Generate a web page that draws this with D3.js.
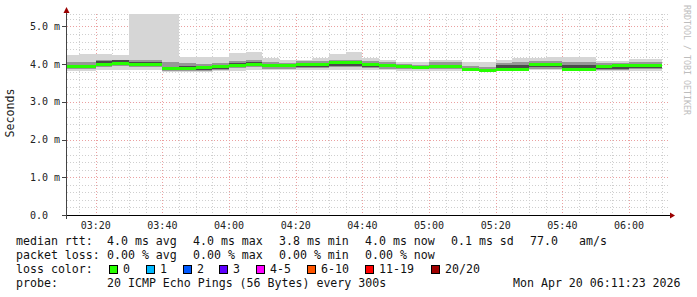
<!DOCTYPE html>
<html>
<head>
<meta charset="utf-8">
<script src="https://cdn.jsdelivr.net/npm/d3@7"></script>
<style>
  body { margin: 0; background: #fff; }
  svg { display: block; }
  text { font-family: "DejaVu Sans Mono", monospace; }
</style>
</head>
<body>
<svg width="697" height="297"></svg>
<script>
// 5 minute slots, first one starts at 03:10 (clipped by the graph start)
const slotCount = 36;
const slotMinutes = 5;

// rtt in ms, one value per slot
const median = [3.95, 3.95, 4.00, 4.03, 4.00, 4.00, 3.88, 3.88, 3.90, 3.93, 3.97, 4.00,
  3.97, 3.97, 4.00, 4.00, 4.05, 4.05, 4.00, 3.97, 3.95, 3.92, 3.95, 3.95,
  3.85, 3.83, 3.85, 3.85, 4.00, 4.00, 3.87, 3.87, 3.95, 3.97, 3.97, 3.97];
const rttMax = [4.25, 4.28, 4.28, 4.25, 5.33, 5.33, 5.33, 4.20, 4.18, 4.18, 4.30, 4.32,
  4.15, 4.12, 4.12, 4.15, 4.28, 4.33, 4.15, 4.12, 4.05, 4.05, 4.12, 4.12,
  4.05, 4.05, 4.12, 4.15, 4.17, 4.20, 4.20, 4.20, 4.08, 4.08, 4.13, 4.13];
const rttMin = [3.82, 3.82, 3.85, 3.85, 3.85, 3.85, 3.80, 3.80, 3.80, 3.82, 3.83, 3.85,
  3.85, 3.85, 3.85, 3.85, 3.85, 3.85, 3.85, 3.85, 3.83, 3.83, 3.83, 3.83,
  3.82, 3.80, 3.82, 3.82, 3.85, 3.85, 3.82, 3.82, 3.82, 3.82, 3.82, 3.82];
const rttHi = [4.05, 4.05, 4.12, 4.12, 4.12, 4.12, 4.05, 4.02, 4.00, 4.02, 4.08, 4.10,
  4.05, 4.03, 4.08, 4.08, 4.12, 4.12, 4.08, 4.05, 4.00, 3.98, 4.05, 4.05,
  3.95, 3.93, 4.02, 4.05, 4.08, 4.08, 4.05, 4.05, 4.02, 4.02, 4.05, 4.05];
const rttLo = [3.88, 3.88, 3.92, 3.95, 3.92, 3.92, 3.83, 3.83, 3.83, 3.85, 3.90, 3.92,
  3.88, 3.88, 3.90, 3.90, 3.92, 3.92, 3.90, 3.88, 3.87, 3.86, 3.87, 3.87,
  3.83, 3.82, 3.84, 3.84, 3.88, 3.88, 3.84, 3.84, 3.85, 3.85, 3.86, 3.86];
const rttHiInner = [3.98, 3.98, 4.08, 4.10, 4.05, 4.05, 3.92, 3.95, 3.95, 3.97, 4.02, 4.05,
  4.00, 4.00, 4.03, 4.03, 4.08, 4.08, 4.03, 4.00, 3.97, 3.95, 3.98, 3.98,
  3.90, 3.88, 3.97, 3.97, 4.02, 4.02, 3.97, 3.97, 3.97, 3.97, 4.00, 4.00];
const rttLoInner = [3.92, 3.92, 3.97, 3.99, 3.97, 3.97, 3.84, 3.84, 3.85, 3.87, 3.93, 3.95,
  3.92, 3.92, 3.93, 3.93, 3.95, 3.95, 3.93, 3.92, 3.90, 3.88, 3.90, 3.90,
  3.84, 3.82, 3.88, 3.88, 3.92, 3.92, 3.88, 3.88, 3.88, 3.88, 3.90, 3.90];

const yTicks = [0, 1, 2, 3, 4, 5];
const yTickLabels = ["0.0", "1.0 m", "2.0 m", "3.0 m", "4.0 m", "5.0 m"];

const lossLabels = ["0", "1", "2", "3", "4-5", "6-10", "11-19", "20/20"];
const lossColors = ["#26ff00", "#00b8ff", "#0059ff", "#5e00ff", "#ff00ff", "#ff5500", "#ff0000", "#a00000"];
const lossBoxX = [109, 146, 183, 219, 256, 307, 365, 431];

const legendRows = [
  { y: 245.3, items: [[16, "median rtt:"], [107, "4.0 ms avg"], [193, "4.0 ms max"], [279, "3.8 ms min"],
    [365, "4.0 ms now"], [451, "0.1 ms sd"], [530, "77.0"], [579, "am/s"]] },
  { y: 259.1, items: [[16, "packet loss:"], [107, "0.00 % avg"], [193, "0.00 % max"], [279, "0.00 % min"],
    [365, "0.00 % now"]] },
  { y: 272.9, items: [[16, "loss color:"]] },
  { y: 286.7, items: [[16, "probe:"], [107, "20 ICMP Echo Pings (56 Bytes) every 300s"],
    [513, "Mon Apr 20 06:11:23 2026"]] }
];

const svg = d3.select("svg");
const plotLeft = 67, plotRight = 667, plotTop = 14, plotBottom = 215;

const tStart = new Date(Date.UTC(2026, 3, 20, 3, 11, 23));
const tEnd = new Date(Date.UTC(2026, 3, 20, 6, 11, 23));
const slot0 = new Date(Date.UTC(2026, 3, 20, 3, 10, 0));
const slotStart = i => new Date(slot0.getTime() + i * slotMinutes * 60000);

const x = d3.scaleUtc().domain([tStart, tEnd]).range([plotLeft, plotRight]);
const y = d3.scaleLinear().domain([0, 5.33]).range([plotBottom, plotTop]);

// grid
const grid = svg.append("g");
const minorY = d3.range(0, 5.3, 0.2).filter(v => Math.abs(v - Math.round(v)) > 0.01);
grid.selectAll(".hminor")
  .data(minorY.concat([5.33]))
  .enter()
  .append("line")
  .attr("x1", plotLeft).attr("x2", plotRight + 1)
  .attr("y1", d => Math.round(y(d)) + 0.5).attr("y2", d => Math.round(y(d)) + 0.5)
  .style("stroke", "#cfcfcf").style("stroke-dasharray", "1,2");

grid.selectAll(".vminor")
  .data(x.ticks(d3.utcMinute.every(5)).filter(d => d.getUTCMinutes() % 20 !== 0))
  .enter()
  .append("line")
  .attr("x1", d => Math.round(x(d)) + 0.5).attr("x2", d => Math.round(x(d)) + 0.5)
  .attr("y1", plotTop).attr("y2", plotBottom)
  .style("stroke", "#cfcfcf").style("stroke-dasharray", "1,2");

grid.selectAll(".hmajor")
  .data(yTicks.slice(1))
  .enter()
  .append("line")
  .attr("x1", plotLeft).attr("x2", plotRight + 1)
  .attr("y1", d => Math.round(y(d)) + 0.5).attr("y2", d => Math.round(y(d)) + 0.5)
  .style("stroke", "#eba0a0").style("stroke-dasharray", "1,2");

grid.selectAll(".vmajor")
  .data(x.ticks(d3.utcMinute.every(20)))
  .enter()
  .append("line")
  .attr("x1", d => Math.round(x(d)) + 0.5).attr("x2", d => Math.round(x(d)) + 0.5)
  .attr("y1", plotTop).attr("y2", plotBottom)
  .style("stroke", "#eba0a0").style("stroke-dasharray", "1,2");

// smoke
const slots = d3.range(slotCount).map(i => ({
  x0: Math.max(plotLeft, x(slotStart(i))),
  x1: x(slotStart(i + 1)),
  med: median[i], max: rttMax[i], min: rttMin[i],
  hi: rttHi[i], lo: rttLo[i], hiIn: rttHiInner[i], loIn: rttLoInner[i]
}));

const bands = [
  { lo: "min", hi: "max", color: "#d6d6d6" },
  { lo: "lo", hi: "hi", color: "#979797" },
  { lo: "loIn", hi: "hiIn", color: "#4a4a4a" }
];

const smoke = svg.append("g");
bands.forEach(b => {
  smoke.selectAll(null)
    .data(slots)
    .enter()
    .append("rect")
    .attr("x", d => d.x0)
    .attr("width", d => d.x1 - d.x0)
    .attr("y", d => y(d[b.hi]))
    .attr("height", d => y(d[b.lo]) - y(d[b.hi]))
    .style("fill", b.color)
    .style("shape-rendering", "crispEdges");
});

smoke.selectAll(".median")
  .data(slots)
  .enter()
  .append("rect")
  .attr("x", d => d.x0)
  .attr("width", d => d.x1 - d.x0)
  .attr("y", d => y(d.med) - 1.5)
  .attr("height", 3)
  .style("fill", lossColors[0])
  .style("shape-rendering", "crispEdges");

// axes
const axis = svg.append("g");
axis.append("line")
  .attr("x1", 62).attr("x2", 670).attr("y1", plotBottom + 0.5).attr("y2", plotBottom + 0.5)
  .style("stroke", "#000");
axis.append("line")
  .attr("x1", plotLeft - 0.5).attr("x2", plotLeft - 0.5).attr("y1", 219).attr("y2", 11)
  .style("stroke", "#444");
axis.append("path")
  .attr("d", `M670,${plotBottom - 2.5}L675,${plotBottom + 0.5}L670,${plotBottom + 3.5}Z`)
  .style("fill", "#9b0000");
axis.append("path")
  .attr("d", `M${plotLeft - 3.5},13L${plotLeft - 0.5},7L${plotLeft + 2.5},13Z`)
  .style("fill", "#9b0000");

axis.selectAll(".ytick")
  .data(yTicks)
  .enter()
  .append("line")
  .attr("x1", 62).attr("x2", plotLeft)
  .attr("y1", d => Math.round(y(d)) + 0.5).attr("y2", d => Math.round(y(d)) + 0.5)
  .style("stroke", "#444");

axis.selectAll(".ylabel")
  .data(yTicks)
  .enter()
  .append("text")
  .attr("x", 30)
  .attr("y", d => y(d) + 3.5)
  .style("font-size", "10px")
  .style("fill", "#222")
  .text((d, i) => yTickLabels[i]);

axis.selectAll(".xlabel")
  .data(x.ticks(d3.utcMinute.every(20)))
  .enter()
  .append("text")
  .attr("x", d => x(d))
  .attr("y", 229)
  .attr("text-anchor", "middle")
  .style("font-size", "10px")
  .style("fill", "#222")
  .text(d => d3.utcFormat("%H:%M")(d));

svg.append("text")
  .attr("transform", "translate(14,113) rotate(-90)")
  .attr("text-anchor", "middle")
  .style("font-size", "11.6px")
  .style("fill", "#222")
  .text("Seconds");

svg.append("text")
  .attr("transform", "translate(684,5) rotate(90)")
  .style("font-size", "8.3px")
  .style("fill", "#bdbdbd")
  .text("RRDTOOL / TOBI OETIKER");

// legend
const legend = svg.append("g");
legendRows.forEach(row => {
  legend.selectAll(null)
    .data(row.items)
    .enter()
    .append("text")
    .attr("x", d => d[0])
    .attr("y", row.y)
    .attr("xml:space", "preserve")
    .style("font-size", "11.6px")
    .style("fill", "#111")
    .text(d => d[1]);
});

legend.selectAll(".lossbox")
  .data(lossColors)
  .enter()
  .append("rect")
  .attr("x", (d, i) => lossBoxX[i] + 0.5)
  .attr("y", 265.5)
  .attr("width", 8)
  .attr("height", 8)
  .style("fill", d => d)
  .style("stroke", "#000");

legend.selectAll(".losslabel")
  .data(lossLabels)
  .enter()
  .append("text")
  .attr("x", (d, i) => lossBoxX[i] + 14)
  .attr("y", 272.9)
  .style("font-size", "11.6px")
  .style("fill", "#111")
  .text(d => d);
</script>
</body>
</html>
